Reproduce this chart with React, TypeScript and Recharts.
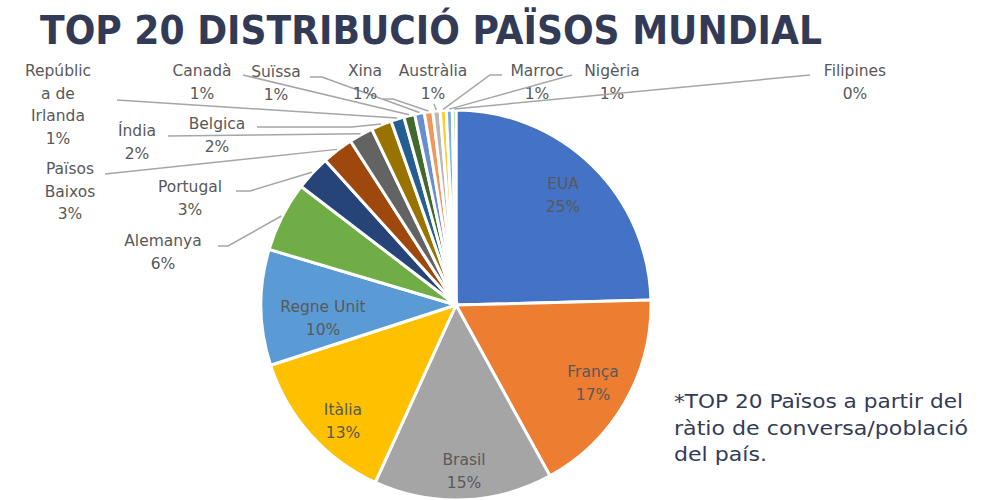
import { PieChart, Pie, Cell } from "recharts";

const countries = [
  "EUA", "França", "Brasil", "Itàlia", "Regne Unit", "Alemanya", "Portugal",
  "Països Baixos", "Índia", "Belgica", "República de Irlanda", "Canadà",
  "Suïssa", "Xina", "Austràlia", "Marroc", "Nigèria", "Filipines",
];
const shares = [24.6, 17.4, 14.8, 13.2, 9.6, 5.8, 2.9, 2.6, 2.0, 1.7, 1.1, 0.9, 0.8, 0.7, 0.6, 0.5, 0.5, 0.3];
const pctLabels = ["25%", "17%", "15%", "13%", "10%", "6%", "3%", "3%", "2%", "2%", "1%", "1%", "1%", "1%", "1%", "1%", "1%", "0%"];

const colors = [
  "#4472C4", "#ED7D31", "#A5A5A5", "#FFC000", "#5B9BD5", "#70AD47", "#264478",
  "#9E480E", "#636363", "#997300", "#255E91", "#43682B", "#698ED0", "#F1975A",
  "#B7B7B7", "#FFCD33", "#7CAFDD", "#8CC168",
];

const data = countries.map((name, i) => ({ name, value: shares[i], pct: pctLabels[i] }));

// label layout (Excel places these by hand): text lines, centre x, first line y, leader path near the label
type Spot = { lines: string[]; x: number; y: number; lead?: [number, number][] };
const spots: Spot[] = [
  { lines: ["EUA"], x: 563, y: 184 },
  { lines: ["França"], x: 593, y: 372 },
  { lines: ["Brasil"], x: 464, y: 460 },
  { lines: ["Itàlia"], x: 343, y: 410 },
  { lines: ["Regne Unit"], x: 323, y: 307 },
  { lines: ["Alemanya"], x: 163, y: 241, lead: [[218, 246], [228, 246]] },
  { lines: ["Portugal"], x: 190, y: 187, lead: [[236, 191], [250, 191]] },
  { lines: ["Països", "Baixos"], x: 70, y: 169, lead: [[105, 174]] },
  { lines: ["Índia"], x: 137, y: 131, lead: [[168, 136]] },
  { lines: ["Belgica"], x: 217, y: 124, lead: [[257, 127], [352, 127]] },
  { lines: ["Repúblic", "a de", "Irlanda"], x: 58, y: 71, lead: [[117, 100]] },
  { lines: ["Canadà"], x: 202, y: 71, lead: [[243, 75]] },
  { lines: ["Suïssa"], x: 276, y: 72, lead: [[310, 77], [322, 77]] },
  { lines: ["Xina"], x: 365, y: 71, lead: [[383, 99], [393, 99]] },
  { lines: ["Austràlia"], x: 433, y: 71, lead: [[434, 104]] },
  { lines: ["Marroc"], x: 537, y: 71, lead: [[502, 75], [490, 75]] },
  { lines: ["Nigèria"], x: 612, y: 71, lead: [[572, 75]] },
  { lines: ["Filipines"], x: 855, y: 71, lead: [[810, 75]] },
];

const FONT = "'DejaVu Sans', sans-serif";
const RAD = Math.PI / 180;

const renderLabel = (props: any) => {
  const { cx, cy, midAngle, outerRadius, index, payload } = props;
  const s = spots[index];
  const lines = [...s.lines, payload?.pct ?? pctLabels[index]];
  let path = null;
  if (s.lead) {
    const ex = cx + (outerRadius + 1) * Math.cos(-midAngle * RAD);
    const ey = cy + (outerRadius + 1) * Math.sin(-midAngle * RAD);
    const pts = [...s.lead, [ex, ey]].map((p) => p.join(",")).join(" ");
    path = <polyline points={pts} fill="none" stroke="#A6A6A6" strokeWidth={1.5} />;
  }
  return (
    <g key={`lbl-${index}`}>
      {path}
      <text x={s.x} y={s.y} textAnchor="middle" fill="#595959" fontSize={15.5} fontFamily={FONT}>
        {lines.map((t, i) => (
          <tspan key={i} x={s.x} dy={i === 0 ? 5 : 22.5}>{t}</tspan>
        ))}
      </text>
    </g>
  );
};

export default function App() {
  return (
    <div style={{ position: "absolute", left: 0, top: 0, width: 1004, height: 500, background: "#fff", overflow: "hidden" }}>
      <PieChart width={1004} height={500} margin={{ top: 0, right: 0, bottom: 0, left: 0 }} style={{ position: "absolute", left: 0, top: 0 }}>
        <Pie
          data={data}
          dataKey="value"
          nameKey="name"
          cx={456}
          cy={305}
          outerRadius={195}
          startAngle={90}
          endAngle={-270}
          stroke="#FFFFFF"
          strokeWidth={3}
          label={renderLabel}
          labelLine={false}
          isAnimationActive={false}
        >
          {data.map((d, i) => (
            <Cell key={d.name} fill={colors[i]} />
          ))}
        </Pie>
      </PieChart>
      <svg width={1004} height={500} style={{ position: "absolute", left: 0, top: 0, pointerEvents: "none" }}>
        <text x={40} y={44} fill="#333A56" fontSize={39} fontWeight={800} fontFamily={FONT} textLength={782} lengthAdjust="spacingAndGlyphs">
          TOP 20 DISTRIBUCIÓ PAÏSOS MUNDIAL
        </text>
        <g fill="#343B58" fontSize={19} fontFamily={FONT}>
          <text x={674} y={408} textLength={289} lengthAdjust="spacingAndGlyphs">*TOP 20 Països a partir del</text>
          <text x={674} y={435} textLength={294} lengthAdjust="spacingAndGlyphs">ràtio de conversa/població</text>
          <text x={674} y={461} textLength={93} lengthAdjust="spacingAndGlyphs">del país.</text>
        </g>
      </svg>
    </div>
  );
}
